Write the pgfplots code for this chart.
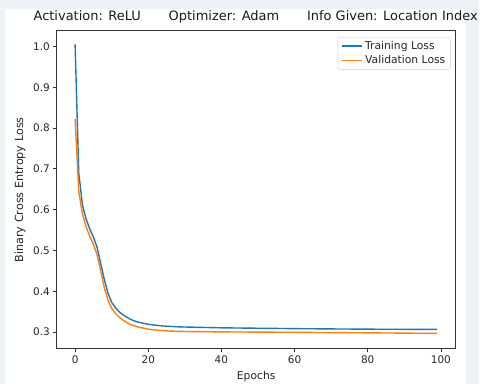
\documentclass[border=0pt]{standalone}
\usepackage{fontspec}
\setmainfont{DejaVu Sans}
\usepackage{pgfplots}
\pgfplotsset{compat=1.18}
\definecolor{mplblue}{HTML}{1F77B4}
\definecolor{mplorange}{HTML}{FF7F0E}
\definecolor{bgc}{HTML}{EEF1F6}
\begin{document}
\begin{tikzpicture}
\fill[bgc] (-57pt,-35pt) rectangle (424pt,350pt);
\fill[white] (-52pt,-35pt) rectangle (411pt,341pt);
\begin{axis}[
  at={(0,0)}, anchor=south west,
  scale only axis, width=400pt, height=319pt,
  xmin=-5, xmax=104, ymin=0.259, ymax=1.038,
  xtick={0,20,40,60,80,100},
  ytick={0.3,0.4,0.5,0.6,0.7,0.8,0.9,1.0},
  yticklabel style={/pgf/number format/.cd, fixed, fixed zerofill, precision=1},
  /pgf/number format/assume math mode=true,
  tick align=outside, major tick length=3.5pt,
  tick style={black!80, line width=0.7pt},
  xtick pos=bottom, ytick pos=left,
  axis line style={black!80, line width=0.8pt},
  tick label style={font=\fontsize{10.5}{12}\selectfont, text=black!85},
  xlabel={Epochs}, ylabel={Binary Cross Entropy Loss},
  label style={font=\fontsize{10.8}{12}\selectfont, text=black!85},
  xlabel style={at={(0.5,0)}, anchor=center, yshift=-28pt},
  ylabel style={at={(0,0.5)}, anchor=center, yshift=37pt, font=\fontsize{11.2}{12}\selectfont},
  legend style={at={(1,1)}, anchor=north east, xshift=-5pt, yshift=-6pt,
    draw=black!20, rounded corners=2pt, font=\fontsize{10.8}{12}\selectfont,
    text=black!85, row sep=1pt, inner xsep=3pt, inner ysep=2pt},
  legend cell align=left,
  legend image code/.code={\draw[#1, line width=1.4pt] (0pt,0pt) -- (21pt,0pt);},
]
\addplot[mplblue, line width=1.4pt] coordinates {
(0,1.005) (1,0.690) (2,0.612) (3,0.577) (4,0.553) (5,0.533) (6,0.508) (7,0.468)
(8,0.428) (9,0.395) (10,0.373) (11,0.360) (12,0.350) (13,0.343) (14,0.337)
(15,0.332) (16,0.328) (17,0.325) (18,0.323) (19,0.321) (20,0.319) (22,0.317)
(24,0.315) (26,0.314) (28,0.313) (30,0.3125) (35,0.3115) (40,0.3105) (50,0.3095)
(60,0.3085) (70,0.3078) (80,0.3072) (90,0.3068) (99,0.3066)};
\addlegendentry{Training Loss}
\addplot[mplorange, line width=1.4pt] coordinates {
(0,0.822) (1,0.645) (2,0.590) (3,0.558) (4,0.535) (5,0.515) (6,0.490) (7,0.450)
(8,0.408) (9,0.378) (10,0.358) (11,0.346) (12,0.337) (13,0.330) (14,0.324)
(15,0.319) (16,0.316) (17,0.313) (18,0.311) (19,0.309) (20,0.307) (22,0.305)
(24,0.3035) (26,0.3025) (28,0.302) (30,0.3015) (35,0.301) (40,0.3005) (50,0.300)
(60,0.2995) (70,0.2988) (80,0.2982) (90,0.2975) (99,0.2968)};
\addlegendentry{Validation Loss}
\end{axis}
\node[font=\fontsize{13}{15}\selectfont, text=black!90] at (199.5pt,333pt)
  {Activation: ReLU\hspace{28pt}Optimizer: Adam\hspace{28pt}Info Given: Location Index};
\end{tikzpicture}
\end{document}
